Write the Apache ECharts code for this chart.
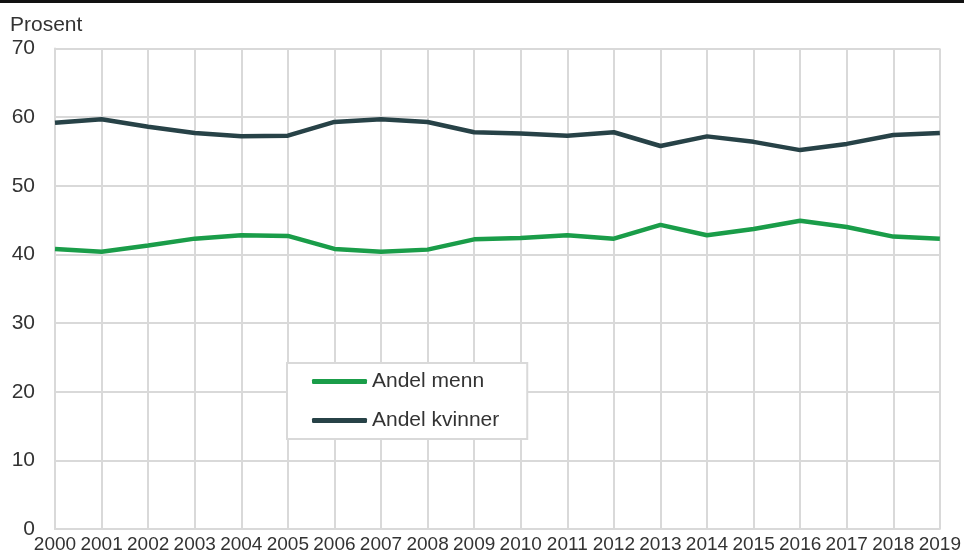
<!DOCTYPE html>
<html lang="no">
<head>
    <meta charset="UTF-8">
    <title>Andel menn og kvinner</title>
    <script src="https://cdn.jsdelivr.net/npm/echarts@6/dist/echarts.min.js"></script>
    <style>
        html, body { margin: 0; padding: 0; background: #fff; }
        #main { width: 964px; height: 554px; }
    </style>
</head>
<body>
<div id="main"></div>
<script type="text/javascript">
    // år langs x-aksen
    var years = ['2000', '2001', '2002', '2003', '2004', '2005', '2006', '2007', '2008', '2009',
                 '2010', '2011', '2012', '2013', '2014', '2015', '2016', '2017', '2018', '2019'];
    // prosent
    var menn    = [40.8, 40.4, 41.3, 42.3, 42.8, 42.7, 40.8, 40.4, 40.7, 42.2,
                   42.4, 42.8, 42.3, 44.3, 42.8, 43.7, 44.9, 44.0, 42.6, 42.3];
    var kvinner = [59.2, 59.7, 58.6, 57.7, 57.2, 57.3, 59.3, 59.7, 59.3, 57.8,
                   57.6, 57.3, 57.8, 55.8, 57.2, 56.4, 55.2, 56.1, 57.4, 57.7];
    var yTicks = { min: 0, max: 70, interval: 10 };

    var gridColor = '#d9d9d9';
    var textColor = '#333333';
    var font = 'Liberation Sans, Arial, sans-serif';

    var myChart = echarts.init(document.getElementById('main'), null, { renderer: 'canvas' });

    myChart.setOption({
        animation: false,
        textStyle: { fontFamily: font },
        graphic: [
            // svart strek øverst
            { type: 'rect', left: 0, top: 0, shape: { width: 964, height: 3 }, style: { fill: '#111111' } },
            { type: 'text', left: 10, top: 15, style: { text: 'Prosent', fill: textColor, font: '21px ' + font } }
        ],
        grid: { left: 55, right: 22, top: 48.5, bottom: 18, containLabel: false },
        legend: {
            orient: 'vertical',
            left: 287,
            top: 363,
            padding: [8, 28, 8, 25],
            borderColor: gridColor,
            borderWidth: 2,
            backgroundColor: '#fff',
            icon: 'roundRect',
            itemWidth: 55,
            itemHeight: 5,
            itemGap: 18,
            textStyle: { fontSize: 21, color: textColor, fontFamily: font },
            data: ['Andel menn', 'Andel kvinner']
        },
        xAxis: {
            type: 'category',
            data: years,
            boundaryGap: false,
            axisLine: { lineStyle: { color: gridColor, width: 2 } },
            axisTick: { show: false },
            axisLabel: { interval: 0, fontSize: 19, color: textColor, margin: 6 },
            splitLine: { show: true, lineStyle: { color: gridColor, width: 2 } }
        },
        yAxis: {
            type: 'value',
            min: yTicks.min,
            max: yTicks.max,
            interval: yTicks.interval,
            axisLine: { show: true, lineStyle: { color: gridColor, width: 2 } },
            axisTick: { show: false },
            axisLabel: { fontSize: 21, color: textColor, margin: 20 },
            splitLine: { lineStyle: { color: gridColor, width: 2 } }
        },
        series: [
            {
                name: 'Andel menn',
                type: 'line',
                data: menn,
                symbol: 'none',
                itemStyle: { color: '#1a9d49' },
                lineStyle: { color: '#1a9d49', width: 4.5 }
            },
            {
                name: 'Andel kvinner',
                type: 'line',
                data: kvinner,
                symbol: 'none',
                itemStyle: { color: '#274247' },
                lineStyle: { color: '#274247', width: 4.5 }
            }
        ]
    });
</script>
</body>
</html>
